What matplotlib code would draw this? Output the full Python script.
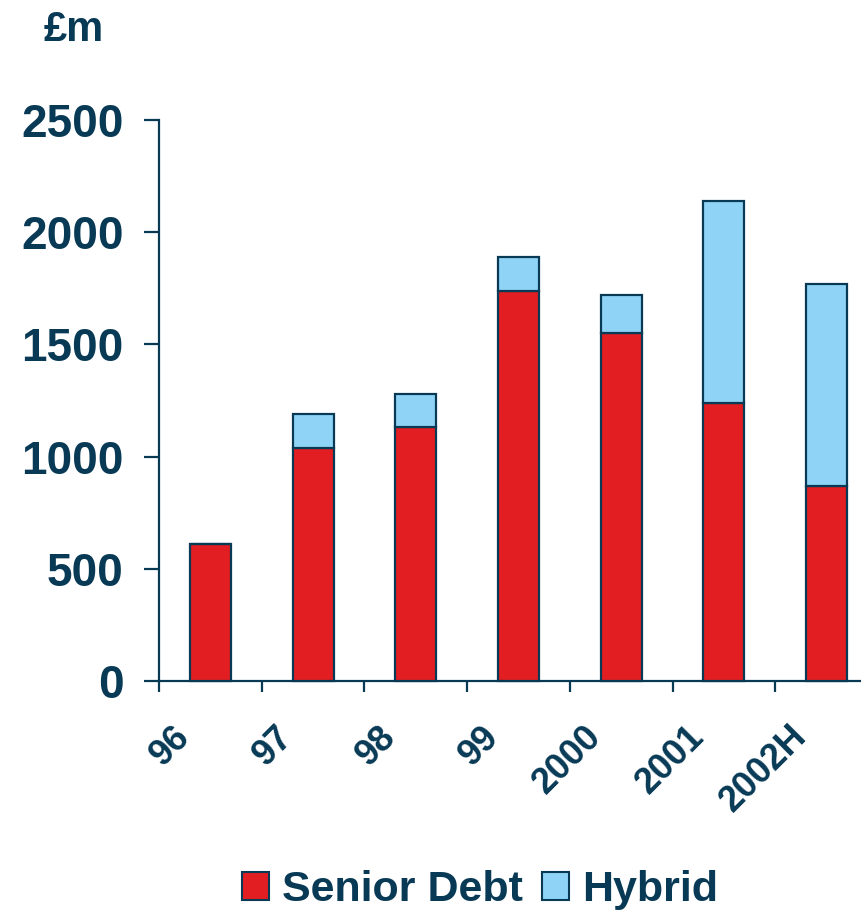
import matplotlib
matplotlib.use("Agg")
import matplotlib.pyplot as plt
import matplotlib.transforms as mtransforms
from matplotlib.patches import Patch

# Issuance by year, £m
years = ["96", "97", "98", "99", "2000", "2001", "2002H"]
senior_debt = [610, 1040, 1130, 1740, 1550, 1240, 870]
hybrid = [0, 150, 150, 150, 170, 900, 900]
y_ticks = [0, 500, 1000, 1500, 2000, 2500]

navy = "#083a56"
red = "#e31e22"
light_blue = "#8fd4f6"

plt.rcParams["font.family"] = ["Liberation Sans", "DejaVu Sans"]
plt.rcParams["font.weight"] = "bold"

fig = plt.figure(figsize=(8.62, 9.15), dpi=100)
ax = fig.add_axes([159 / 862, 1 - 681 / 915, 719 / 862, 561 / 915])

n = len(years)
centers = [i + 0.5 for i in range(n)]
ax.bar(centers, senior_debt, width=0.4, color=red, edgecolor=navy,
       linewidth=1.6, zorder=3, clip_on=False)
ax.bar(centers, hybrid, width=0.4, bottom=senior_debt, color=light_blue,
       edgecolor=navy, linewidth=1.6, zorder=3, clip_on=False)

ax.set_xlim(0, n)
ax.set_ylim(0, 2500)

for side in ("top", "right"):
    ax.spines[side].set_visible(False)
for side in ("left", "bottom"):
    ax.spines[side].set_color(navy)
    ax.spines[side].set_linewidth(1.6)

ax.set_yticks(y_ticks)
ax.set_yticklabels([str(v) for v in y_ticks])
ax.tick_params(axis="y", length=10.5, width=1.6, color=navy, pad=15,
               labelsize=33, labelcolor=navy)

# Boundary ticks between categories; year labels sit below, left of each bar
ax.set_xticks(range(n))
ax.set_xticklabels([])
ax.tick_params(axis="x", length=8, width=1.6, color=navy)

label_shift = mtransforms.ScaledTranslation(-13 / 100, -38 / 100, fig.dpi_scale_trans)
for c, lab in zip(centers, years):
    ax.text(c, 0, lab, transform=ax.transData + label_shift,
            rotation=45, ha="right", va="top", fontsize=26,
            fontweight="bold", color=navy)

fig.text(44 / 862, 1 - 41 / 915, "£m", fontsize=30, fontweight="bold",
         color=navy, ha="left", va="baseline")

handles = [Patch(facecolor=red, edgecolor=navy, linewidth=1.5, label="Senior Debt"),
           Patch(facecolor=light_blue, edgecolor=navy, linewidth=1.5, label="Hybrid")]
leg = fig.legend(handles=handles, loc="center", bbox_to_anchor=(0.557, 1 - 890 / 915),
                 ncol=2, frameon=False, fontsize=31, handlelength=0.63,
                 handleheight=0.62, handletextpad=0.3, columnspacing=0.45,
                 borderaxespad=0, borderpad=0)
for t in leg.get_texts():
    t.set_color(navy)
    t.set_fontweight("bold")

fig.savefig("out.png", dpi=100)
